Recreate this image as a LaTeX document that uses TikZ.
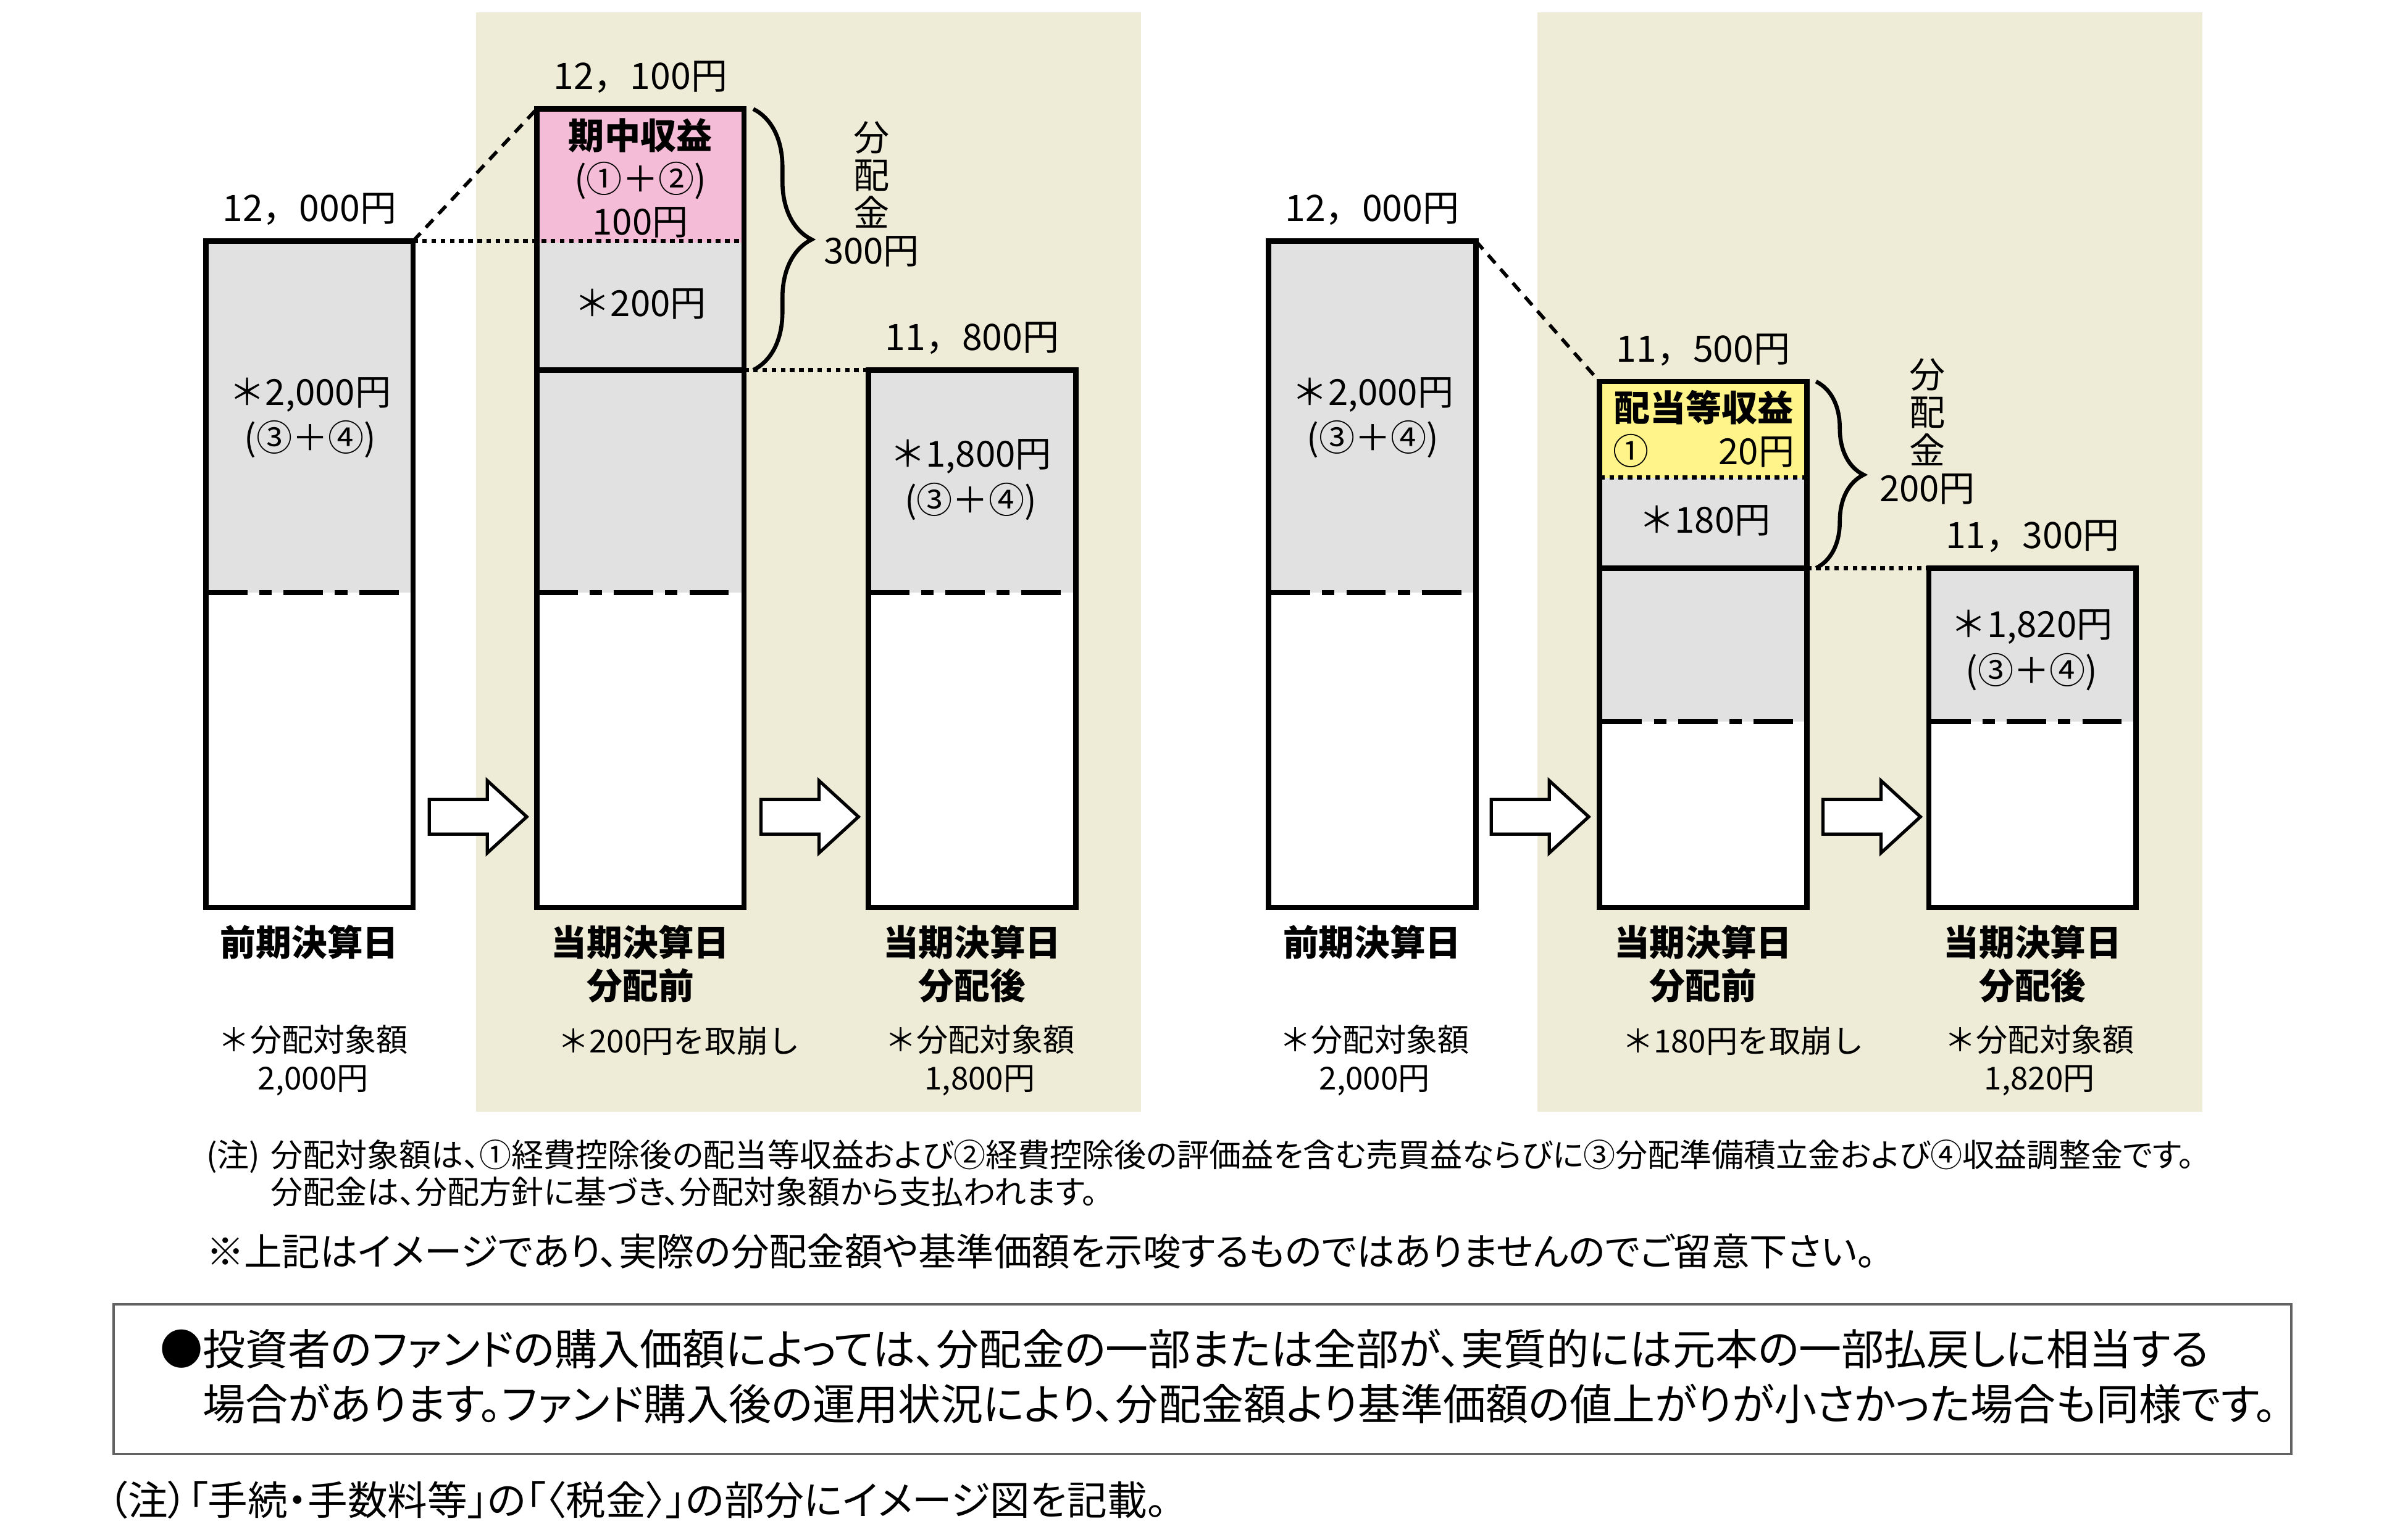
\documentclass[tikz,border=0pt]{standalone}
\usepackage{fontspec}
\setmainfont{Noto Sans CJK JP}
\newfontfamily\propjp{Noto Sans CJK JP}[RawFeature=+palt]
\usetikzlibrary{positioning,calc,decorations.pathreplacing,shapes.arrows}
\definecolor{panelbeige}{HTML}{EEEBD7}
\definecolor{reservegray}{HTML}{E1E1E1}
\definecolor{midpink}{HTML}{F5BCD7}
\definecolor{dividyellow}{HTML}{FFF489}
\definecolor{framegray}{HTML}{626262}
\tikzset{
  panel/.style={fill=panelbeige, draw=none},
  fundcol/.style={
    draw=black,
    line width=2pt,
    minimum width=2.7cm,
    inner sep=0pt,
    outer sep=0pt
  },
  reserve/.style={fill=reservegray},
  levelline/.style={line width=2pt},
  midline/.style={line width=1.7pt, dash pattern=on 14.6pt off 4.4pt on 4.6pt off 4.4pt},
  splitline/.style={line width=1.5pt, dash pattern=on 1.7pt off 1.7pt},
  riseline/.style={line width=1.3pt, dash pattern=on 4pt off 2.9pt},
  bracket/.style={decorate, decoration={brace, amplitude=#1}, line width=1.5pt},
  stepper/.style={
    single arrow,
    draw=black,
    fill=white,
    line width=1.2pt,
    minimum height=1.27cm,
    inner xsep=0pt,
    inner ysep=0.205cm,
    outer sep=0pt,
    single arrow head extend=0.245cm,
    single arrow tip angle=85,
    anchor=tail
  },
  pricetag/.style={font=\fontsize{13.5pt}{16pt}\selectfont, inner sep=0pt},
  boxtext/.style={font=\fontsize{13.3pt}{17pt}\selectfont, align=center, inner sep=0pt},
  incometext/.style={font=\fontsize{13.3pt}{16pt}\selectfont, align=center, inner sep=0pt},
  payouttext/.style={font=\fontsize{13.3pt}{14pt}\selectfont, align=center, inner sep=0pt},
  daytitle/.style={font=\bfseries\fontsize{13.2pt}{16pt}\selectfont, align=center, inner sep=0pt},
  targetnote/.style={font=\fontsize{11.7pt}{14.2pt}\selectfont, align=center, inner sep=0pt},
  remark/.style={font=\propjp\fontsize{11.9pt}{13.7pt}\selectfont, align=left, inner sep=0pt, anchor=west},
  caution/.style={font=\propjp\fontsize{14.05pt}{16pt}\selectfont, inner sep=0pt, anchor=west},
  noticebox/.style={draw=framegray, line width=0.8pt, minimum width=28.36cm, minimum height=1.95cm, inner sep=0pt},
  noticetext/.style={font=\propjp\fontsize{15.8pt}{20.5pt}\selectfont, align=left, inner sep=0pt, anchor=west},
  sourcenote/.style={font=\propjp\fontsize{14.8pt}{17pt}\selectfont, inner sep=0pt, anchor=west}
}

\begin{document}
\begin{tikzpicture}[x=0.2mm, y=-0.2mm]
\useasboundingbox (0,0) rectangle (1568,1001);

% shaded current periods
\fill[panel] (310,8) rectangle (743,724);
\fill[panel] (1001,8) rectangle (1434,724);

% ---- case 1: income 100, payout 300 ----
\fill[reserve] (134,157) rectangle (269,386);
\fill[white] (134,386) rectangle (269,591);
\fill[midpink] (349,71) rectangle (485,158);
\fill[reserve] (349,158) rectangle (485,386);
\fill[white] (349,386) rectangle (485,591);
\fill[reserve] (565,241) rectangle (701,386);
\fill[white] (565,386) rectangle (701,591);

\node[fundcol, minimum height=8.68cm] (prevL) at (201.5,374) {};
\node[fundcol, minimum height=10.4cm] (preL) at (417,331) {};
\node[fundcol, minimum height=7cm] (postL) at (633,416) {};

\draw[midline] (135.5,386) -- (261.5,386);
\draw[midline] (350.5,386) -- (476.5,386);
\draw[midline] (566.5,386) -- (692.5,386);
\draw[levelline] (preL.west |- postL.north) -- (preL.east |- postL.north);

\draw[riseline] (prevL.north east) -- (preL.north west);
\draw[splitline] (prevL.north east) -- (prevL.north east -| preL.east);
\draw[splitline] (preL.east |- postL.north) -- (postL.north west);
\draw[bracket=0.76cm] ($(preL.north east)+(6,0)$) -- ($(preL.east |- postL.north)+(6,0)$);

\node[stepper] (stepL1) at (279.5,532) {};
\node[stepper] (stepL2) at (495.5,532) {};

\node[pricetag, above=2mm of prevL] (prevLval) {12，000円};
\node[pricetag, above=2mm of preL] (preLval) {12，100円};
\node[pricetag, above=2mm of postL] (postLval) {11，800円};

\node[boxtext] (prevLres) at (202,272) {＊2,000円\\(③＋④)};
\node[incometext] (preLinc) at (417,116) {\textbf{期中収益}\\(①＋②)\\100円};
\node[boxtext] (preLcut) at (417,198) {＊200円};
\node[boxtext] (postLres) at (632,312.5) {＊1,800円\\(③＋④)};
\node[payouttext] (preLpay) at (567.5,126.5) {分\\配\\金\\300円};

\node[daytitle, below=2.2mm of prevL] (prevLday) {前期決算日};
\node[daytitle, below=2.2mm of preL] (preLday) {当期決算日\\分配前};
\node[daytitle, below=2.2mm of postL] (postLday) {当期決算日\\分配後};

\node[targetnote] (prevLnote) at (204,690.5) {＊分配対象額\\2,000円};
\node[targetnote] (preLnote) at (442,678) {＊200円を取崩し};
\node[targetnote] (postLnote) at (638,690.5) {＊分配対象額\\1,800円};

% ---- case 2: income 20, payout 200 ----
\fill[reserve] (826,157) rectangle (961,386);
\fill[white] (826,386) rectangle (961,591);
\fill[dividyellow] (1042,248.5) rectangle (1176,311);
\fill[reserve] (1042,311) rectangle (1176,470);
\fill[white] (1042,470) rectangle (1176,591);
\fill[reserve] (1256,370) rectangle (1391,470);
\fill[white] (1256,470) rectangle (1391,591);

\node[fundcol, minimum height=8.68cm] (prevR) at (893.5,374) {};
\node[fundcol, minimum height=6.85cm] (preR) at (1109,419.75) {};
\node[fundcol, minimum height=4.42cm] (postR) at (1323.5,480.5) {};

\draw[midline] (827.5,386) -- (953.5,386);
\draw[midline] (1043.5,470) -- (1169.5,470);
\draw[midline] (1257.5,470) -- (1383.5,470);
\draw[splitline] (1042,311) -- (1176,311);
\draw[levelline] (preR.west |- postR.north) -- (preR.east |- postR.north);

\draw[riseline] (prevR.north east) -- (preR.north west);
\draw[splitline] (preR.east |- postR.north) -- (postR.north west);
\draw[bracket=0.62cm] ($(preR.north east)+(6,0)$) -- ($(preR.east |- postR.north)+(6,0)$);

\node[stepper] (stepR1) at (971,532) {};
\node[stepper] (stepR2) at (1187,532) {};

\node[pricetag, above=2mm of prevR] (prevRval) {12，000円};
\node[pricetag, above=2mm of preR] (preRval) {11，500円};
\node[pricetag, above=2mm of postR] (postRval) {11，300円};

\node[boxtext] (prevRres) at (894,272) {＊2,000円\\(③＋④)};
\node[incometext, text width=2.36cm] (preRinc) at (1109.5,279.5) {\textbf{配当等収益}\\①\hfill 20円};
\node[boxtext] (preRcut) at (1110,339) {＊180円};
\node[boxtext] (postRres) at (1323,423.5) {＊1,820円\\(③＋④)};
\node[payouttext] (preRpay) at (1255,281) {分\\配\\金\\200円};

\node[daytitle, below=2.2mm of prevR] (prevRday) {前期決算日};
\node[daytitle, below=2.2mm of preR] (preRday) {当期決算日\\分配前};
\node[daytitle, below=2.2mm of postR] (postRday) {当期決算日\\分配後};

\node[targetnote] (prevRnote) at (895,690.5) {＊分配対象額\\2,000円};
\node[targetnote] (preRnote) at (1135,678) {＊180円を取崩し};
\node[targetnote] (postRnote) at (1328,690.5) {＊分配対象額\\1,820円};

% ---- notes ----
\node[remark] (distnote) at (134,764) {\makebox[8.4mm][l]{(注)}分配対象額は、①経費控除後の配当等収益および②経費控除後の評価益を含む売買益ならびに③分配準備積立金および④収益調整金です。\\\hspace*{8.4mm}分配金は、分配方針に基づき、分配対象額から支払われます。};
\node[caution] (imagenote) at (134,815) {※上記はイメージであり、実際の分配金額や基準価額を示唆するものではありませんのでご留意下さい。};

\node[noticebox] (notice) at (783,898.25) {};
\node[noticetext] (noticetxt) at (104,896.5) {●投資者のファンドの購入価額によっては、分配金の一部または全部が、実質的には元本の一部払戻しに相当する\\\phantom{●}場合があります。ファンド購入後の運用状況により、分配金額より基準価額の値上がりが小さかった場合も同様です。};

\node[sourcenote] (srcnote) at (70,977) {（注）「手続・手数料等」の「〈税金〉」の部分にイメージ図を記載。};
\end{tikzpicture}
\end{document}
